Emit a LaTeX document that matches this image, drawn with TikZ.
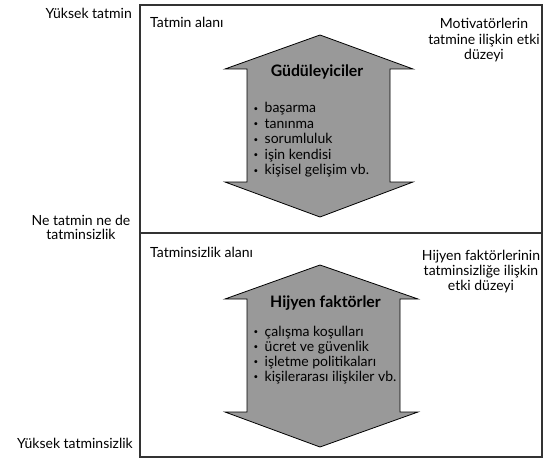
\documentclass[tikz,border=0pt]{standalone}
\usepackage{fontspec}
\setmainfont{Lato}
\newcommand\bul{\makebox[11pt][l]{\fontsize{8}{8}\selectfont\raisebox{0.35ex}{•}}}
\begin{document}
\begin{tikzpicture}[x=1pt,y=-1pt,
  lbl/.style={inner sep=0pt,font=\fontsize{14}{16}\selectfont},
  area/.style={draw=black!80,line width=1.1pt},
  bigarrow/.style={draw=black,line width=0.8pt,fill=black!40,line join=miter},
  title/.style={inner sep=0pt,anchor=base,font=\fontsize{15.8}{18}\selectfont\bfseries},
  item/.style={inner sep=0pt,anchor=base west,font=\fontsize{14}{16}\selectfont}]
\useasboundingbox (0,0) rectangle (544,460);
\fill[white] (0,0) rectangle (544,460);
% boxes
\draw[area] (140,5) rectangle (542,233);
\draw[area] (140,233) rectangle (542,457);
% arrows
\draw[bigarrow] (320,35) -- (413,69) -- (390,69) -- (390,182) -- (413,182) -- (320,217)
  -- (225,182) -- (247,182) -- (247,69) -- (225,69) -- cycle;
\draw[bigarrow] (320,265) -- (418,299) -- (400,299) -- (400,412) -- (418,412) -- (320,447)
  -- (225,412) -- (247,412) -- (247,299) -- (225,299) -- cycle;
% left scale labels
\node[lbl,anchor=base east] (yt) at (132,18.5) {Yüksek tatmin};
\node[lbl,anchor=base] (nn1) at (81,225) {Ne tatmin ne de};
\node[lbl,anchor=base] (nn2) at (81,239.5) {tatminsizlik};
\node[lbl,anchor=base east] (ytz) at (133,448) {Yüksek tatminsizlik};
% area labels
\node[lbl,anchor=base west] (ta) at (150,28) {Tatmin alanı};
\node[lbl,anchor=base west] (tza) at (150,257) {Tatminsizlik alanı};
\node[lbl,anchor=base] (mot1) at (484,28.3) {Motivatörlerin};
\node[lbl,anchor=base] (mot2) at (484,44.3) {tatmine ilişkin etki};
\node[lbl,anchor=base] (mot3) at (484,60) {düzeyi};
\node[lbl,anchor=base] (hij1) at (481,260) {Hijyen faktörlerinin};
\node[lbl,anchor=base] (hij2) at (481,275) {tatminsizliğe ilişkin};
\node[lbl,anchor=base] (hij3) at (481,290) {etki düzeyi};
% arrow contents
\node[title] (gud) at (317,77) {Güdüleyiciler};
\node[item] (g1) at (253.5,112.7) {\bul başarma};
\node[item] (g2) at (253.5,128.2) {\bul tanınma};
\node[item] (g3) at (253.5,143.7) {\bul sorumluluk};
\node[item] (g4) at (253.5,159.2) {\bul işin kendisi};
\node[item] (g5) at (253.5,174.7) {\bul kişisel gelişim vb.};
\node[title] (hf) at (325.5,307) {Hijyen faktörler};
\node[item] (h1) at (253.5,336) {\bul çalışma koşulları};
\node[item] (h2) at (253.5,351) {\bul ücret ve güvenlik};
\node[item] (h3) at (253.5,366) {\bul işletme politikaları};
\node[item] (h4) at (253.5,381) {\bul kişilerarası ilişkiler vb.};
\end{tikzpicture}
\end{document}
